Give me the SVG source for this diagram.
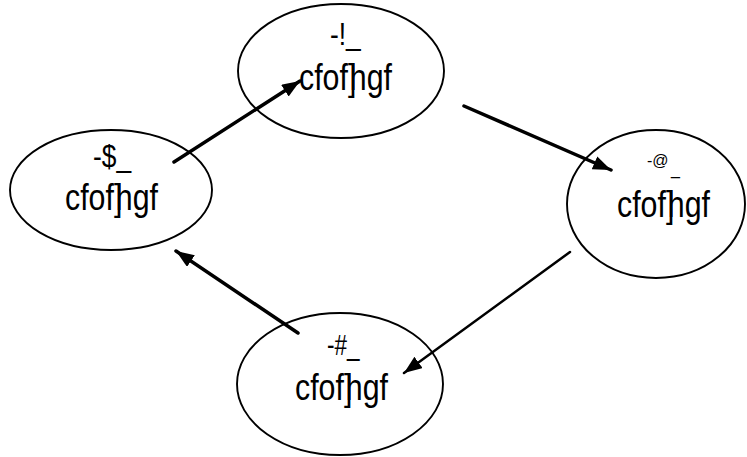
<svg xmlns="http://www.w3.org/2000/svg" width="747" height="457" viewBox="0 0 747 457">
<style>
.node ellipse{fill:#fff;stroke:#000;stroke-width:1.9}
.t{font-family:"Liberation Sans",Arial,sans-serif;fill:#000}
.conn line{stroke:#000;stroke-linecap:round}
</style>
<defs>
<marker id="ah" markerUnits="userSpaceOnUse" markerWidth="20" markerHeight="16" refX="18" refY="7" orient="auto">
<path d="M0,0 L18,7 L0,14 z" fill="#000"/>
</marker>
</defs>
<rect width="747" height="457" fill="#fff"/>
<g id="n1" class="node">
<ellipse cx="341" cy="71" rx="103" ry="67"/>
<text class="t" font-size="31" transform="translate(330,45) scale(0.85,1)">-!_</text>
<text class="t" font-size="37" dx="0 0 0 0 0 -8" transform="translate(299,90) scale(0.82,1)">cfof]hgf</text>
</g>
<g id="n2" class="node">
<ellipse cx="656" cy="204" rx="89" ry="74"/>
<text class="t" font-size="16" x="647" y="166">-@</text>
<text class="t" font-size="16" x="671" y="175">_</text>
<text class="t" font-size="37" dx="0 0 0 0 0 -8" transform="translate(617,217) scale(0.82,1)">cfof]hgf</text>
</g>
<g id="n3" class="node">
<ellipse cx="340" cy="384" rx="103" ry="71"/>
<text class="t" font-size="30" transform="translate(327,355) scale(0.75,1)">-#_</text>
<text class="t" font-size="37" dx="0 0 0 0 0 -8" transform="translate(295,400) scale(0.82,1)">cfof]hgf</text>
</g>
<g id="n4" class="node">
<ellipse cx="111" cy="190" rx="101" ry="60"/>
<text class="t" font-size="31" transform="translate(93,167) scale(0.85,1)">-$_</text>
<text class="t" font-size="37" dx="0 0 0 0 0 -8" transform="translate(65,210) scale(0.82,1)">cfof]hgf</text>
</g>
<g id="connectors" class="conn">
<line x1="174" y1="162" x2="300" y2="81" stroke-width="3.5" marker-end="url(#ah)"/>
<line x1="464" y1="106" x2="611" y2="170" stroke-width="3.5" marker-end="url(#ah)"/>
<line x1="570" y1="252" x2="404" y2="373" stroke-width="2.5" marker-end="url(#ah)"/>
<line x1="298" y1="333" x2="176" y2="251" stroke-width="3.5" marker-end="url(#ah)"/>
</g>
</svg>
